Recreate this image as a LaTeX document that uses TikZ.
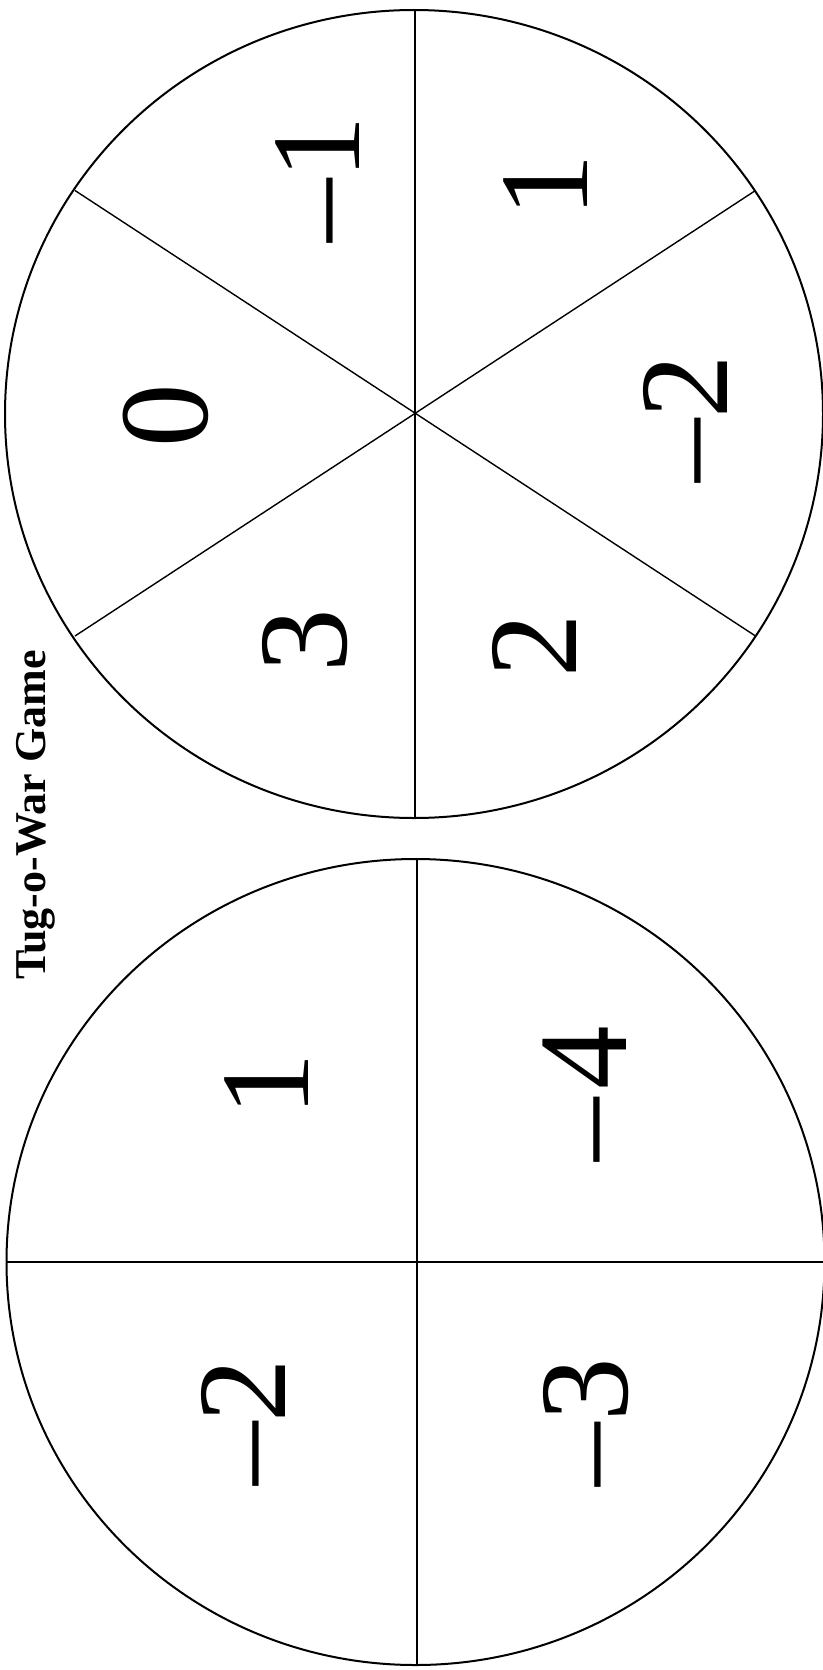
\documentclass[tikz,border=0pt]{standalone}
\usepackage{fontspec}
\setmainfont{Liberation Serif}
\newfontfamily\numfont{Liberation Serif}
\begin{document}
\begin{tikzpicture}[x=1pt,y=-1pt,
  rim/.style={line width=2pt},
  chord/.style={line width=1.4pt},
  num/.style={rotate=90,anchor=base,inner sep=0pt,font=\numfont\fontsize{127}{130}\selectfont},
  title/.style={rotate=90,anchor=base,inner sep=0pt,font=\bfseries\fontsize{44}{48}\selectfont}]
\useasboundingbox (0,0) rectangle (822,1670);
\fill[white] (0,0) rectangle (822,1670);
% top spinner
\coordinate (tc) at (414,414);
\draw[rim] (tc) ellipse [x radius=409, y radius=404];
\coordinate (tT) at (415,10);
\coordinate (tB) at (415,818);
\coordinate (tUL) at (75,190.5);
\coordinate (tUR) at (755.5,190.5);
\coordinate (tLL) at (75,636);
\coordinate (tLR) at (755.5,636);
\draw[chord] (tT) -- (tB);
\draw[chord] (tUL) -- (tLR);
\draw[chord] (tUR) -- (tLL);
\node[num] (t1) at (359,179) {–1};
\node[num] (t2) at (587,185.5) {1};
\node[num] (t3) at (207,415.5) {0};
\node[num] (t4) at (727.5,418.5) {–2};
\node[num] (t5) at (346,641) {3};
\node[num] (t6) at (576.5,646) {2};
% title
\node[title] (ttl) at (45,815) {Tug-o-War Game};
% bottom spinner
\coordinate (bc) at (415.5,1262);
\draw[rim] (bc) ellipse [x radius=409, y radius=403];
\coordinate (bT) at (417,859);
\coordinate (bB) at (417,1665);
\coordinate (bL) at (6,1262);
\coordinate (bR) at (824,1262);
\draw[chord] (bT) -- (bB);
\draw[chord] (bL) -- (bR);
\node[num] (b1) at (308,1085) {1};
\node[num] (b2) at (626.5,1094) {–\kern8.5pt 4};
\node[num] (b3) at (285.5,1422) {–2};
\node[num] (b4) at (627,1422) {–\kern1pt 3};
\end{tikzpicture}
\end{document}
